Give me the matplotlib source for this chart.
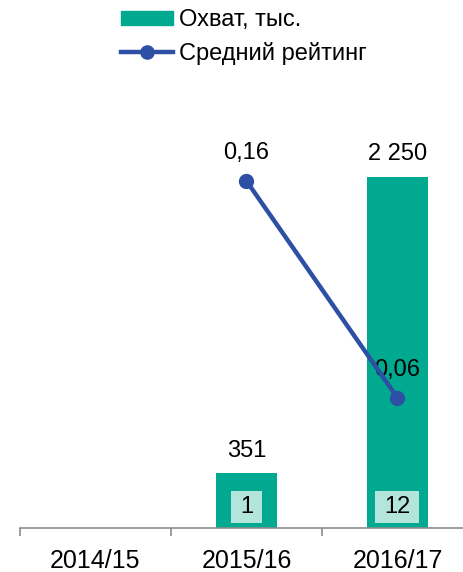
import matplotlib
matplotlib.use("Agg")
import matplotlib.pyplot as plt
from matplotlib.lines import Line2D
from matplotlib.patches import Patch, Rectangle
from matplotlib.transforms import offset_copy, Affine2D, ScaledTranslation

categories = ["2014/15", "2015/16", "2016/17"]
reach = [0, 351, 2250]
reach_labels = ["", "351", "2 250"]
rating = [None, 0.16, 0.06]
rating_labels = ["", "0,16", "0,06"]
counts = ["", "1", "12"]

TEAL = "#00A98F"
BLUE = "#2E50A4"
LIGHT = "#B3E5DC"

plt.rcParams["font.family"] = ["Liberation Sans", "DejaVu Sans"]
FS = 17

fig = plt.figure(figsize=(4.63, 5.72), dpi=100)
W, H = 463, 572
left, right = 20, 473
bottom_px, top_px = 528, 90
ax = fig.add_axes([left / W, 1 - bottom_px / H, (right - left) / W, (bottom_px - top_px) / H])
x = list(range(len(categories)))
ax.bar(x, reach, width=0.4, color=TEAL, zorder=2)
ax.set_xlim(-0.5, 2.5)
ax.set_ylim(0, 2250 * (bottom_px - top_px) / 351)
for s in ["top", "right", "left"]:
    ax.spines[s].set_visible(False)
ax.spines["bottom"].set_color("#8C8C8C")
ax.spines["bottom"].set_linewidth(1.2)
ax.set_yticks([])
ax.set_xticks([-0.5, 0.5, 1.5, 2.5])
ax.set_xticklabels([])
ax.tick_params(axis="x", length=6, color="#8C8C8C", width=1.2)
ax.set_xticks(x, minor=True)
ax.set_xticklabels(categories, minor=True, fontsize=18)
ax.tick_params(axis="x", which="minor", length=0, pad=15)

for i, v in enumerate(reach):
    if reach_labels[i]:
        ax.annotate(reach_labels[i], (i, v), xytext=(0, 12), textcoords="offset points",
                    ha="center", va="baseline", fontsize=FS)
    if counts[i]:
        bw = 18 + 13 * len(counts[i])
        tr = Affine2D() + ScaledTranslation(i, 0, ax.transData)
        ax.add_patch(Rectangle((-bw / 2, 5), bw, 32, transform=tr, fc=LIGHT, ec="none",
                               zorder=3, clip_on=False))
        ax.text(i, 0, counts[i], ha="center", va="center", fontsize=FS,
                transform=offset_copy(ax.transData, fig=fig, x=0, y=21, units="dots"),
                zorder=4)

ax2 = ax.twinx()
ax2.set_ylim(0, 0.16 * (bottom_px - top_px) / 347)
ax2.axis("off")
xs = [i for i, r in enumerate(rating) if r is not None]
ys = [r for r in rating if r is not None]
ax2.plot(xs, ys, color=BLUE, lw=3.2, marker="o", ms=10, zorder=4)
for i, r in enumerate(rating):
    if r is not None:
        ax2.annotate(rating_labels[i], (i, r), xytext=(0, 16), textcoords="offset points",
                     ha="center", va="baseline", fontsize=FS)

handles = [Patch(color=TEAL), Line2D([0], [0], color=BLUE, lw=3.2, marker="o", ms=9.5)]
fig.legend(handles, ["Охват, тыс.", "Средний рейтинг"], loc="upper left",
           bbox_to_anchor=(121 / W, 1 - 9 / H), frameon=False, fontsize=FS,
           borderaxespad=0, borderpad=0,
           handlelength=2.2, handleheight=0.55, handletextpad=0.25, labelspacing=0.45)

fig.savefig("out.png", dpi=100)
